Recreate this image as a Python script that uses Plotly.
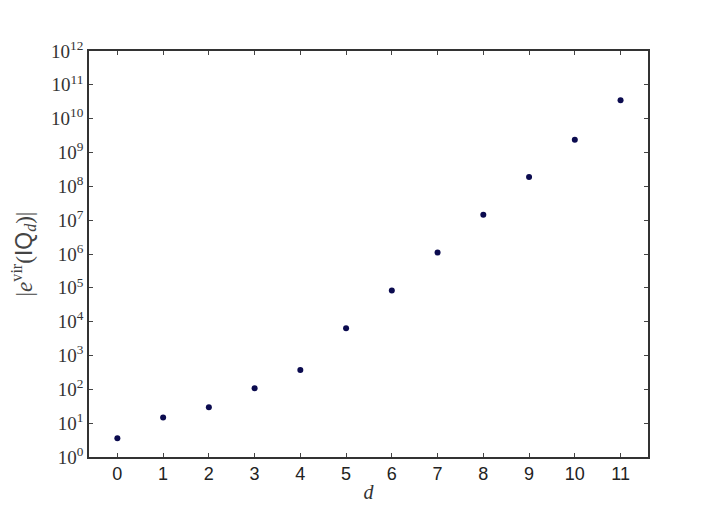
import plotly.graph_objects as go

d_vals = [0, 1, 2, 3, 4, 5, 6, 7, 8, 9, 10, 11]
e_vir = [3.6, 14.6, 29.5, 108, 375, 6400, 83000, 1.1e6, 1.45e7, 1.9e8, 2.4e9, 3.5e10]

y_tick_vals = [10 ** k for k in range(13)]
y_tick_text = ["10<sup>%d</sup>" % k for k in range(13)]
x_tick_vals = list(range(12))
x_tick_text = [str(v) for v in x_tick_vals]

fig = go.Figure()
fig.add_trace(go.Scatter(
    x=d_vals, y=e_vir, mode="markers",
    marker=dict(color="#0b0b4f", size=6, line=dict(width=0)),
    showlegend=False,
))

# page body has an 8px default margin, so the figure is 8px smaller
fig.update_layout(
    width=712, height=501,
    margin=dict(l=81, r=72, t=43, b=52),
    paper_bgcolor="white", plot_bgcolor="white",
    xaxis=dict(
        automargin=False,
        range=[-0.62, 11.6], tickvals=x_tick_vals, ticktext=x_tick_text,
        ticks="inside", ticklen=4, tickcolor="#444", mirror="allticks",
        showline=True, linecolor="#333", linewidth=1.6, showgrid=False, zeroline=False,
        tickfont=dict(family="Liberation Sans, Arial", size=18, color="#222"),
        title=dict(text="<i>d</i>", font=dict(family="Liberation Serif, serif", size=20, color="#333"), standoff=2),
    ),
    yaxis=dict(
        automargin=False,
        type="log", range=[0, 12], tickvals=y_tick_vals, ticktext=y_tick_text,
        ticks="inside", ticklen=4, tickcolor="#444", mirror="allticks",
        showline=True, linecolor="#333", linewidth=1.6, showgrid=False, zeroline=False,
        tickfont=dict(family="Liberation Serif, serif", size=19, color="#333"),
        title=dict(text="|<i>e</i><sup>vir</sup>(<span style=\"font-family:Liberation Sans\">IQ</span><sub><i>d</i></sub>)|",
                   font=dict(family="Liberation Serif, serif", size=23, color="#444"), standoff=14),
    ),
)

fig.write_html("out.html")
